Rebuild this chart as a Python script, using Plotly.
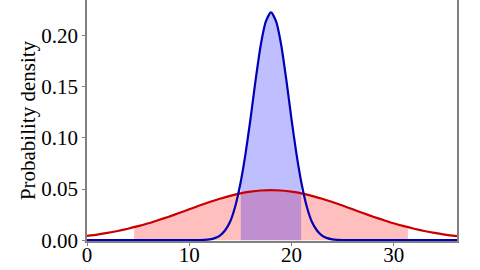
import plotly.graph_objects as go

# Blue (narrow) density curve
blue_x = [0, 10, 11, 11.5, 12, 12.5, 13, 13.5, 14, 14.5, 15, 15.5, 16, 16.5, 17, 17.5, 18,
          18.5, 19, 19.5, 20, 20.5, 21, 21.5, 22, 22.5, 23, 23.5, 24, 24.5, 25, 26, 36.2]
blue_y = [0, 0, 0.0001, 0.0003, 0.0008, 0.002, 0.0045, 0.0095, 0.018, 0.033, 0.055, 0.084, 0.119,
          0.157, 0.191, 0.214, 0.223, 0.214, 0.191, 0.157, 0.119, 0.084, 0.055, 0.033,
          0.018, 0.0095, 0.0045, 0.002, 0.0008, 0.0003, 0.0001, 0, 0]

# Red (wide) density curve
red_x = [0, 1, 2, 3, 4, 5, 6, 7, 8, 9, 10, 11, 12, 13, 14, 15, 16, 17, 18,
         19, 20, 21, 22, 23, 24, 25, 26, 27, 28, 29, 30, 31, 32, 33, 34, 35, 36, 36.2]
red_y = [0.0042, 0.0055, 0.0071, 0.0090, 0.0112, 0.0137, 0.0165, 0.0197, 0.0230, 0.0266,
         0.0302, 0.0339, 0.0373, 0.0406, 0.0434, 0.0458, 0.0475, 0.0486, 0.0490,
         0.0486, 0.0475, 0.0458, 0.0434, 0.0406, 0.0373, 0.0339, 0.0302, 0.0266, 0.0230,
         0.0197, 0.0165, 0.0137, 0.0112, 0.0090, 0.0071, 0.0055, 0.0042, 0.0040]

# Shaded intervals (bounds and curve heights at the bounds)
blue_lo, blue_hi = 15.05, 20.95
blue_lo_y, blue_hi_y = 0.0573, 0.0573
red_lo, red_hi = 4.6, 31.4
red_lo_y, red_hi_y = 0.0127, 0.0127

x_ticks = [0, 10, 20, 30]
y_ticks = [0.00, 0.05, 0.10, 0.15, 0.20]


def shade(xs, ys, lo, hi, lo_y, hi_y):
    sx = [lo] + [x for x in xs if lo < x < hi] + [hi]
    sy = [lo_y] + [y for x, y in zip(xs, ys) if lo < x < hi] + [hi_y]
    return sx, sy


rsx, rsy = shade(red_x, red_y, red_lo, red_hi, red_lo_y, red_hi_y)
bsx, bsy = shade(blue_x, blue_y, blue_lo, blue_hi, blue_lo_y, blue_hi_y)

fig = go.Figure()
fig.add_trace(go.Scatter(x=rsx, y=rsy, mode="lines", line=dict(width=0, shape="spline"),
                         fill="tozeroy", fillcolor="rgba(255,0,0,0.25)", hoverinfo="skip"))
fig.add_trace(go.Scatter(x=bsx, y=bsy, mode="lines", line=dict(width=0, shape="spline"),
                         fill="tozeroy", fillcolor="rgba(0,0,255,0.25)", hoverinfo="skip"))
fig.add_trace(go.Scatter(x=red_x, y=red_y, mode="lines",
                         line=dict(color="#c80000", width=2.2, shape="spline", smoothing=0.6)))
fig.add_trace(go.Scatter(x=blue_x, y=blue_y, mode="lines",
                         line=dict(color="#0000b4", width=2.2, shape="spline", smoothing=0.6)))

tick_font = dict(family="Liberation Serif, Times New Roman, serif", size=21, color="black")
title_font = dict(family="Liberation Serif, Times New Roman, serif", size=21, color="black")
fig.update_layout(
    width=480, height=270, showlegend=False,
    margin=dict(l=87, r=23, t=0, b=29),
    plot_bgcolor="white", paper_bgcolor="white", font=tick_font,
    xaxis=dict(range=[0, 36.2], tickvals=x_ticks, ticktext=[str(v) for v in x_ticks],
               showgrid=False, zeroline=False, showline=True, linecolor="#808080",
               linewidth=1.5, ticks="outside", ticklen=3, tickcolor="#808080",
               tickfont=tick_font, automargin=False, ticklabelstandoff=-9),
    yaxis=dict(range=[-0.0008, 0.235], tickvals=y_ticks,
               ticktext=[f"{v:.2f}" for v in y_ticks],
               showgrid=False, zeroline=False, showline=True, mirror=True,
               linecolor="#808080", linewidth=1.5, ticks="outside", ticklen=3,
               tickcolor="#808080", tickfont=tick_font, automargin=False,
               ticklabelstandoff=0,
               title=dict(text="Probability density", font=title_font, standoff=0)),
)

fig.write_html("out.html")
